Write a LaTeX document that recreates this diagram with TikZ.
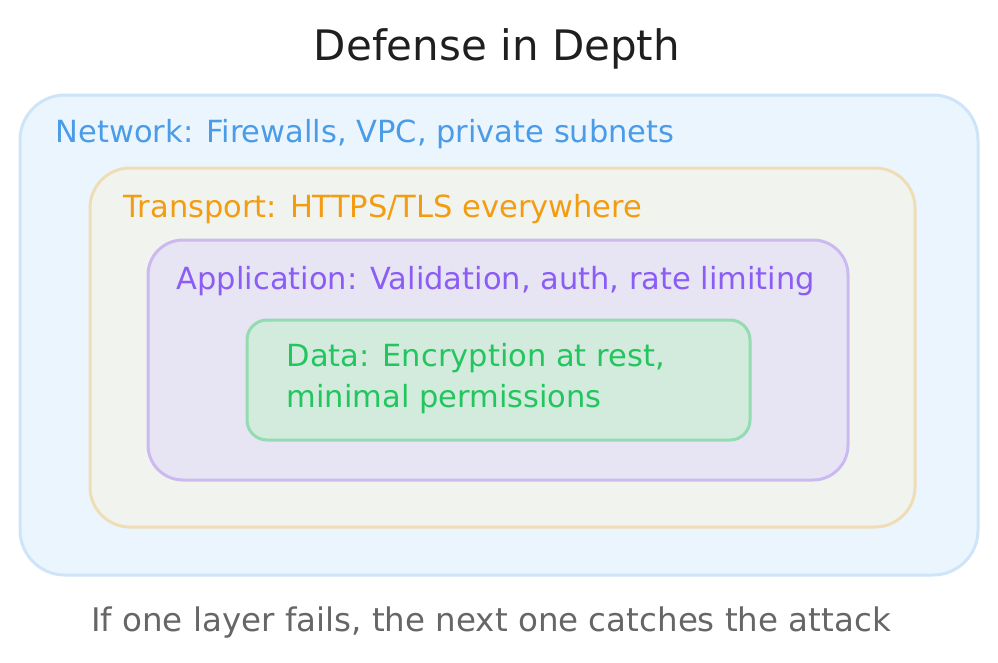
\documentclass[tikz,border=0pt]{standalone}
\usepackage{fontspec}
\setmainfont{DejaVu Sans}
\usepackage{tikz}
\usetikzlibrary{positioning}
\definecolor{netline}{RGB}{206,228,248}
\definecolor{netfill}{RGB}{235,245,254}
\definecolor{nettext}{RGB}{74,155,232}
\definecolor{tranline}{RGB}{239,221,181}
\definecolor{tranfill}{RGB}{241,244,238}
\definecolor{trantext}{RGB}{243,156,18}
\definecolor{appline}{RGB}{203,186,240}
\definecolor{appfill}{RGB}{231,228,244}
\definecolor{apptext}{RGB}{139,92,246}
\definecolor{dataline}{RGB}{147,219,176}
\definecolor{datafill}{RGB}{211,235,221}
\definecolor{datatext}{RGB}{34,197,94}
\definecolor{foottext}{RGB}{102,102,102}

\begin{document}
\begin{tikzpicture}[
    x=1pt, y=-1pt,
    layer/.style={
      rectangle, line width=3pt, inner sep=0pt
    },
    layertext/.style={anchor=west, inner sep=0pt, font=\fontsize{30.5}{36}\selectfont},
    title/.style={font=\fontsize{42}{48}\selectfont, text=black!88},
    foot/.style={font=\fontsize{32.5}{38}\selectfont, text=foottext}
  ]
    \useasboundingbox (0,0) rectangle (998,662);
    \node[layer, draw=netline, fill=netfill, rounded corners=45pt,
          minimum width=958pt, minimum height=480pt] (net) at (499,335) {};
    \node[layer, draw=tranline, fill=tranfill, rounded corners=40pt,
          minimum width=825pt, minimum height=359pt] (tran) at (502.5,347.5) {};
    \node[layer, draw=appline, fill=appfill, rounded corners=35pt,
          minimum width=700pt, minimum height=240pt] (app) at (498,360) {};
    \node[layer, draw=dataline, fill=datafill, rounded corners=20pt,
          minimum width=503pt, minimum height=120pt] (data) at (498.5,380) {};
    \node[title] (head) at (497,49) {Defense in Depth};
    \node[layertext, text=nettext] (netlbl) at ([shift={(37,41)}]net.north west)
      {Network: Firewalls, VPC, private subnets};
    \node[layertext, text=trantext] (tranlbl) at ([shift={(35,43)}]tran.north west)
      {Transport: HTTPS/TLS everywhere};
    \node[layertext, text=apptext] (applbl) at ([shift={(30,43)}]app.north west)
      {Application: Validation, auth, rate limiting};
    \node[layertext, text=datatext] (datalbl1) at ([shift={(41,40)}]data.north west)
      {Data: Encryption at rest,};
    \node[layertext, text=datatext] (datalbl2) at ([shift={(41,81)}]data.north west)
      {minimal permissions};
    \node[foot] (note) at (491,623) {If one layer fails, the next one catches the attack};
  \end{tikzpicture}
\end{document}
